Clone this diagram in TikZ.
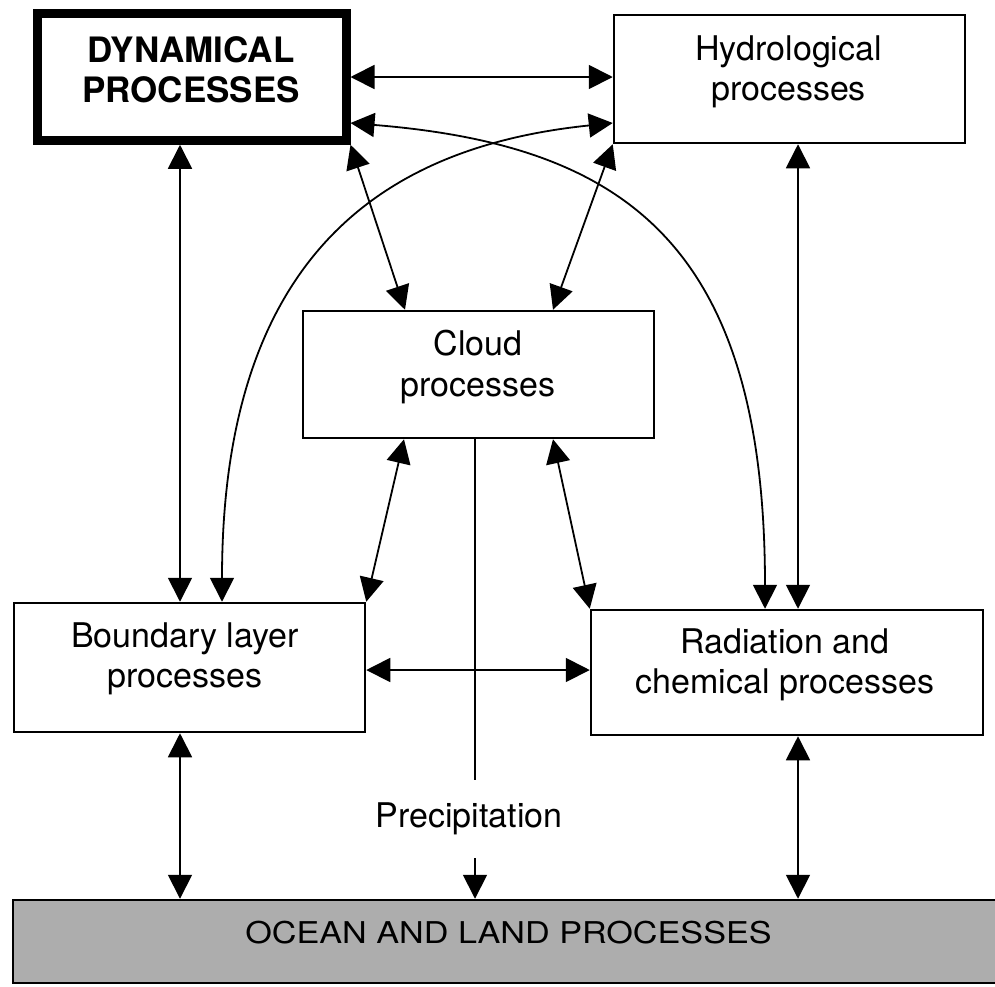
\documentclass[tikz,border=0pt]{standalone}
\usepackage{fontspec}
\setmainfont{TeX Gyre Heros}
\usetikzlibrary{arrows.meta}
\begin{document}
\begin{tikzpicture}[x=1pt,y=-1pt,
  procbox/.style={draw, line width=2.5pt, inner sep=0pt},
  lbl/.style={font=\fontsize{34}{41}\selectfont, align=center, inner sep=0pt},
  conn/.style={line width=1.8pt, {Triangle[length=24pt,width=24pt]}-{Triangle[length=24pt,width=24pt]}},
  oneway/.style={line width=1.8pt, -{Triangle[length=24pt,width=24pt]}},
  plain/.style={line width=1.8pt}]
\useasboundingbox (0,0) rectangle (995,986);
\fill[white] (0,0) rectangle (995,986);

% boxes
\node[procbox, line width=9pt, minimum width=309pt, minimum height=126.5pt] (dyn) at (191.5,77) {};
\node[procbox, minimum width=351pt, minimum height=128pt] (hydro) at (789.5,79) {};
\node[procbox, minimum width=351pt, minimum height=127pt] (cloud) at (478.5,374.5) {};
\node[procbox, minimum width=351pt, minimum height=129pt] (bnd) at (189.5,667.5) {};
\node[procbox, minimum width=392pt, minimum height=125pt] (rad) at (787,672.5) {};
\node[procbox, fill=black!32, minimum width=984pt, minimum height=83pt] (ocean) at (505,941.5) {};

% texts
\node[lbl, font=\fontsize{35}{40}\selectfont\bfseries] (dynT) at (191,69.5) {DYNAMICAL\\PROCESSES};
\node[lbl, font=\fontsize{34}{40}\selectfont] (hydroT) at (788.5,71.5) {Hydrological\\processes};
\node[lbl] (cloudT) at (478,367) {Cloud\\processes};
\node[lbl, font=\fontsize{34}{40}\selectfont] (bndT) at (185,659) {Boundary layer\\processes};
\node[lbl, font=\fontsize{34}{40}\selectfont] (radT) at (785,664.5) {Radiation and\\chemical processes};
\node[lbl, anchor=base] (precip) at (469,827) {Precipitation};
\node[lbl, font=\fontsize{30}{36}\selectfont] (oceanT) at (508.5,933) {\scalebox{1.14}[1]{OCEAN AND LAND PROCESSES}};

% connectors
\draw[conn] (dyn.east) -- (dyn.east -| hydro.west);
\draw[conn] ([yshift=-46pt]dyn.east) .. controls (620,145) and (765,240) .. ([xshift=-22pt]rad.north);
\draw[conn] ([xshift=32.5pt]bnd.north) .. controls (222,240) and (400,145) .. ([yshift=-44pt]hydro.west);
\draw[conn] ([xshift=-11.5pt]dyn.south) -- ([xshift=-11.5pt]dyn.south |- bnd.north);
\draw[conn] (dyn.south east) -- ([xshift=-73.5pt]cloud.north);
\draw[conn] (hydro.south west) -- ([xshift=74.5pt]cloud.north);
\draw[conn] ([xshift=8.5pt]hydro.south) -- ([xshift=8.5pt]hydro.south |- rad.north);
\draw[conn] ([xshift=-74.5pt]cloud.south) -- (bnd.north east);
\draw[conn] ([xshift=74.5pt]cloud.south) -- (rad.north west);
\draw[conn] ([yshift=-2.5pt]bnd.east) -- ([yshift=-2.5pt]bnd.east -| rad.west);
\draw[conn] ([xshift=-9.5pt]bnd.south) -- ([xshift=-9.5pt]bnd.south |- ocean.north);
\draw[conn] ([xshift=11pt]rad.south) -- ([xshift=11pt]rad.south |- ocean.north);
\coordinate (pA) at (475,780);
\coordinate (pB) at (475,858);
\draw[plain] (cloud.south -| pA) -- (pA);
\draw[oneway] (pB) -- (pB |- ocean.north);
\end{tikzpicture}
\end{document}
